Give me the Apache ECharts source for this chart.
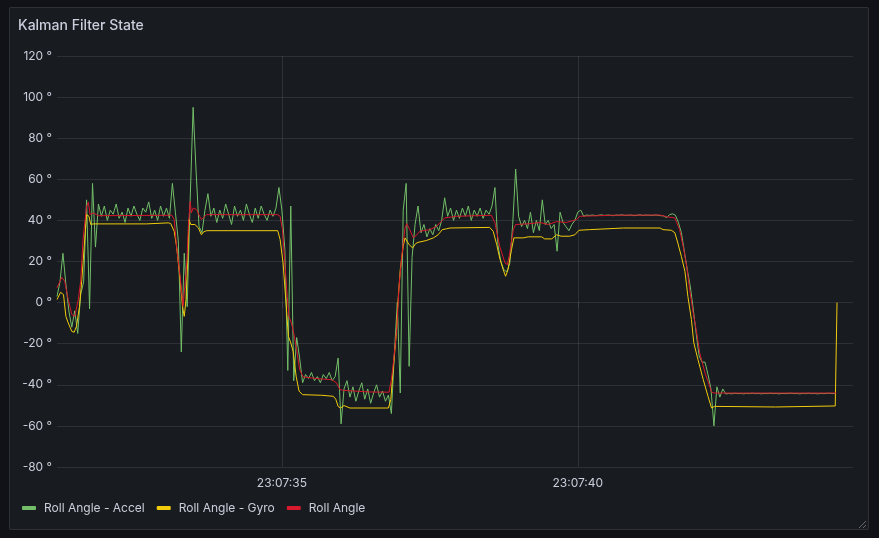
<!DOCTYPE html>
<html>
<head>
<meta charset="utf-8">
<title>Kalman Filter State</title>
<script src="https://cdn.jsdelivr.net/npm/echarts@6/dist/echarts.min.js"></script>
<style>
    html, body { margin: 0; padding: 0; background: #111217; }
    #panel {
        position: absolute; left: 9px; top: 7px; width: 858px; height: 521px;
        background: #181b1f; border: 1px solid rgba(204, 204, 220, 0.12); border-radius: 2px;
    }
    #chart { position: absolute; left: 0; top: 0; width: 879px; height: 538px; }
</style>
</head>
<body>
<div id="panel"></div>
<div id="chart"></div>
<script>
// seconds past 23:07:00
const xTickValues = [35, 40];
const timePrefix = '23:07:';
const seriesNames = ['Roll Angle - Accel', 'Roll Angle - Gyro', 'Roll Angle'];

// accelerometer angle, sampled every 0.05 s starting at 31.20 s
const accelStart = 31.2;
const accelStep = 0.05;
const accelValues = [
    3, 10, 24, 9, -4, -12, -4, -15, 4, 10,
    50, -3, 58, 27, 48, 42, 47, 40, 45, 43,
    48, 41, 44, 39, 46, 42, 47, 43, 40, 46,
    44, 49, 41, 45, 40, 47, 42, 46, 41, 58,
    44, 30, -24, 24, -2, 50, 95, 64, 37, 34,
    45, 53, 42, 46, 39, 45, 41, 48, 43, 38,
    47, 42, 45, 40, 48, 43, 39, 46, 41, 47,
    43, 40, 45, 42, 46, 56, 45, 26, -33, 47,
    -38, -17, -27, -39, -35, -37, -34, -38, -36, -39,
    -35, -37, -34, -38, -36, -27, -59, -42, -38, -46,
    -41, -48, -43, -39, -47, -42, -49, -44, -40, -46,
    -43, -48, -45, -54, -25, 0, -44, 45, 58, -31,
    22, 38, 47, 34, 38, 32, 36, 33, 38, 35,
    40, 51, 42, 46, 40, 45, 41, 46, 42, 47,
    40, 45, 42, 46, 41, 45, 43, 47, 56, 28,
    20, 16, 15, 19, 38, 65, 42, 37, 40, 36,
    44, 34, 40, 35, 50, 38, 40, 36, 38, 25,
    44, 39, 37, 35, 38, 40, 44, 45, 42, 42.6,
    42.4, 42.6, 42.3, 42.5, 42.7, 42.4, 42.6, 42.5, 42.3, 42.6,
    42.5, 42.7, 42.4, 42.5, 42.6, 42.3, 42.5, 42.7, 42.4, 42.6,
    42.5, 42.4, 42.6, 42.5, 42.3, 42.2, 41.3, 42.8, 43.2, 42.5,
    39, 34, 25, 16, 8, -3, -15, -26, -29, -29,
    -35, -42, -60, -41, -46, -42, -44.5, -44.2, -44.4, -44.1,
    -44.3, -44.2, -44.4, -44.2, -44.3, -44.1, -44.3, -44.2, -44.4, -44.2,
    -44.3, -44.1, -44.3, -44.2, -44.4, -44.2, -44.3, -44.2, -44.1, -44.3,
    -44.2, -44.4, -44.2, -44.3, -44.1, -44.3, -44.2, -44.4, -44.2, -44.3,
    -44.2, -44.1, -44.3, -44.2
];

const gyroTimes = [
    31.20, 31.26, 31.31, 31.35, 31.39, 31.45, 31.49, 31.53, 31.58, 31.62, 31.66, 31.70, 31.74, 31.77, 31.81,
    32.71, 32.73, 33.08, 33.12,
    33.18, 33.22, 33.28, 33.32, 33.35, 33.38, 33.41, 33.43, 33.46, 33.53, 33.59, 33.64,
    33.68, 33.73, 34.93, 34.97,
    35.02, 35.07, 35.11, 35.15, 35.19, 35.24, 35.29, 35.35,
    35.67, 35.68, 35.87, 35.91, 35.95, 35.99, 36.05, 36.15, 36.80,
    36.84, 36.88, 36.93, 36.96, 37.00, 37.05, 37.08, 37.11,
    37.15, 37.21, 37.26, 37.30, 37.44, 37.56, 37.64, 37.71, 37.78, 37.84,
    38.51, 38.57, 38.63, 38.68, 38.74, 38.78, 38.82, 38.88, 38.92, 39.08,
    39.16, 39.39, 39.44, 39.56, 39.64, 39.72, 39.86, 39.95, 40.02, 40.20,
    40.77, 41.39, 41.44, 41.58, 41.64, 41.69, 41.75, 41.81, 41.86, 41.92,
    41.96, 42.03, 42.12, 42.20, 42.26, 42.31, 42.33, 43.34, 43.36, 44.35,
    44.38
];
const gyroValues = [
    1.5, 5, 3.9, -6.7, -9.9, -14, -14.4, -11.5, -1.8, 11.2, 27.4, 42.8, 42, 38, 38.3,
    38.3, 38.8, 38.8, 38.5,
    34.7, 27.4, 11.2, -1.8, -6.7, 1.5, 20.9, 40.4, 38, 38, 36.3, 33,
    34.5, 35, 35, 30.7,
    19.3, -0.2, -16.4, -19.6, -23.7, -35.8, -43.1, -44.8,
    -45.1, -45.6, -45.6, -47, -50.5, -51.3, -50.1, -51.3, -51.3,
    -47.2, -32.6, -16.4, 0, 16, 27.4, 31.5, 30.7,
    28.2, 26.6, 28.7, 29.3, 30.2, 31.5, 33, 35.5, 35.9, 36.3,
    36.6, 34.7, 28.2, 21.7, 16, 12.8, 16, 25.8, 31.5, 31.5,
    32, 32, 31, 31, 33, 32.3, 32.3, 33, 35.2, 35.5,
    36.3, 36.3, 35.5, 35.2, 34, 29, 22.5, 15.2, 3, -8.3,
    -19.6, -27.7, -37.5, -45.6, -51.3, -50.5, -50.8, -50.8, -50.3, -50.3,
    0
];

const rollTimes = [
    31.20, 31.28, 31.33, 31.39, 31.45, 31.50, 31.56, 31.60, 31.64, 31.70, 31.73, 31.76, 31.81, 31.90,
    33.14, 33.18, 33.22, 33.28, 33.33, 33.36, 33.39, 33.42, 33.45, 33.47, 33.50, 33.56, 33.61, 33.64, 33.68, 33.73,
    34.93, 34.97, 35.01, 35.05, 35.09, 35.12, 35.16, 35.20, 35.25, 35.30, 35.36,
    35.64, 35.84, 35.92, 35.98, 36.04, 36.49,
    36.81, 36.85, 36.89, 36.94, 36.98, 37.02, 37.05, 37.08, 37.11, 37.16, 37.22, 37.28, 37.33,
    37.50, 37.61, 37.70, 37.75, 37.95,
    38.54, 38.60, 38.68, 38.77, 38.81, 38.85, 38.91, 38.95,
    39.19, 39.36, 39.50, 39.64, 39.81, 39.98, 40.03, 40.59,
    41.39, 41.50, 41.64, 41.72, 41.78, 41.84, 41.89, 41.95, 42.01, 42.06, 42.15, 42.22, 42.26, 42.30,
    44.37
];
const rollValues = [
    7.2, 12.3, 10.4, 1.5, -5.8, -6.7, 1.5, 10.4, 30.7, 46.9, 48.8, 42.8, 43.6, 42.3,
    42.5, 40.4, 27.4, 12.8, -1.8, -1, 17.7, 37, 49.3, 43.6, 46, 45.3, 42, 40.4, 41.5, 42.8,
    42.8, 42, 35.5, 19.3, 3, -6.7, -9.9, -14.8, -22.9, -32.6, -36.2,
    -37.1, -37.5, -39, -42.3, -42.7, -43.5,
    -43.6, -37.5, -27.7, -13, 8, 21, 29, 36.3, 38.4, 35.5, 31.5, 33, 34.7,
    35.5, 37.1, 39.6, 41.2, 42,
    42.5, 38.8, 27.4, 19.3, 18.5, 24.2, 35.5, 38,
    38.4, 39, 38, 39.4, 39, 40.4, 42, 42.5,
    42.6, 41.8, 41.2, 35.5, 27.4, 17.7, 6.3, -5, -14.8, -24.5, -34.2, -40, -43.6, -44,
    -44
];

const textColor = '#ccccdc';
const gridColor = 'rgba(204, 204, 220, 0.12)';
const fontFamily = 'Inter, "Noto Sans", sans-serif';

const accelData = accelValues.map((v, i) => [+(accelStart + i * accelStep).toFixed(2), v]);
const gyroData = gyroTimes.map((t, i) => [t, gyroValues[i]]);
const rollData = rollTimes.map((t, i) => [t, rollValues[i]]);

const myChart = echarts.init(document.getElementById('chart'));

const option = {
    backgroundColor: 'transparent',
    animation: false,
    textStyle: { fontFamily: fontFamily },
    title: {
        text: 'Kalman Filter State',
        left: 18,
        top: 19,
        padding: 0,
        textStyle: { color: textColor, fontSize: 14, fontWeight: 500, fontFamily: fontFamily }
    },
    legend: {
        data: seriesNames,
        left: 22,
        top: 502,
        padding: 0,
        icon: 'roundRect',
        itemWidth: 14,
        itemHeight: 4,
        itemGap: 12,
        textStyle: { color: textColor, fontSize: 12, fontFamily: fontFamily, padding: [0, 0, 0, 3] }
    },
    grid: { left: 57, right: 26, top: 56, bottom: 71 },
    xAxis: {
        type: 'value',
        min: 31.2,
        max: 44.65,
        axisLine: { show: false },
        axisTick: { show: true, length: 5, customValues: xTickValues, lineStyle: { color: gridColor } },
        axisLabel: {
            customValues: xTickValues,
            color: textColor,
            fontSize: 12,
            margin: 10,
            formatter: v => timePrefix + v
        },
        splitLine: { show: true, lineStyle: { color: gridColor, width: 1 } }
    },
    yAxis: {
        type: 'value',
        min: -80,
        max: 120,
        interval: 20,
        axisLine: { show: false },
        axisTick: { show: false },
        axisLabel: { color: textColor, fontSize: 12, margin: 5, formatter: v => v + ' °' },
        splitLine: { lineStyle: { color: gridColor, width: 1 } }
    },
    graphic: [
        { type: 'line', shape: { x1: 866, y1: 521, x2: 859, y2: 528 }, style: { stroke: 'rgba(204,204,220,0.45)', lineWidth: 1 } },
        { type: 'line', shape: { x1: 866, y1: 525, x2: 863, y2: 528 }, style: { stroke: 'rgba(204,204,220,0.45)', lineWidth: 1 } }
    ],
    series: [
        {
            name: seriesNames[0],
            type: 'line',
            data: accelData,
            showSymbol: false,
            color: '#73BF69',
            lineStyle: { width: 1 }
        },
        {
            name: seriesNames[1],
            type: 'line',
            data: gyroData,
            showSymbol: false,
            color: '#F2CC0C',
            lineStyle: { width: 1 }
        },
        {
            name: seriesNames[2],
            type: 'line',
            data: rollData,
            showSymbol: false,
            color: '#D8182C',
            lineStyle: { width: 1 }
        }
    ]
};

myChart.setOption(option);
</script>
</body>
</html>
